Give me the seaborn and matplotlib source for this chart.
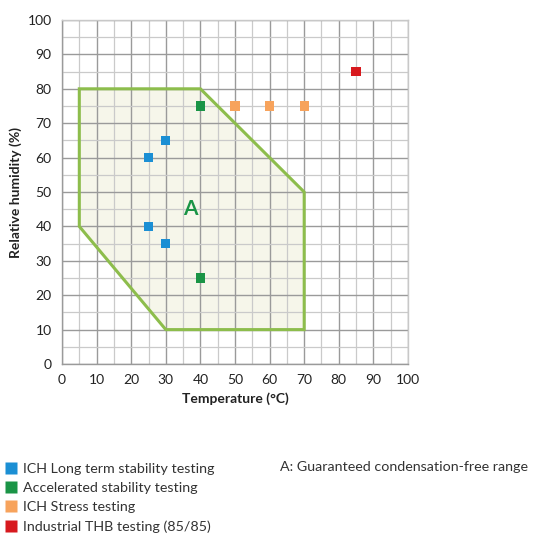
import matplotlib
matplotlib.use("Agg")
import matplotlib.pyplot as plt
import seaborn as sns
import pandas as pd
from matplotlib.patches import Polygon
from matplotlib.lines import Line2D

sns.set_theme(style="white")
plt.rcParams['font.family'] = ['Lato', 'DejaVu Sans']

# Data
categories = ["ICH Long term stability testing", "Accelerated stability testing",
              "ICH Stress testing", "Industrial THB testing (85/85)"]
blue_temp = [25, 30, 25, 30]
blue_rh = [60, 65, 40, 35]
green_temp = [40, 40]
green_rh = [75, 25]
orange_temp = [50, 60, 70]
orange_rh = [75, 75, 75]
red_temp = [85]
red_rh = [85]
region_temp = [5, 40, 70, 70, 30, 5]
region_rh = [80, 80, 50, 10, 10, 40]
colors = ["#1b8fd4", "#1a9446", "#f7a35c", "#d7191e"]

df = pd.DataFrame({
    "temp": blue_temp + green_temp + orange_temp + red_temp,
    "rh": blue_rh + green_rh + orange_rh + red_rh,
    "cat": [categories[0]] * 4 + [categories[1]] * 2 + [categories[2]] * 3 + [categories[3]],
})

fig = plt.figure(figsize=(5.35, 5.35), dpi=100)
ax = fig.add_axes([0.1159, 0.3196, 0.6467, 0.643])

pts = list(zip(region_temp, region_rh))
ax.add_patch(Polygon(pts, closed=True, facecolor="#f6f6ea", edgecolor="none", zorder=0.2))
ax.add_patch(Polygon(pts, closed=True, facecolor="none", edgecolor="#8dbd4c",
                     linewidth=2.2, zorder=3))

sns.scatterplot(data=df, x="temp", y="rh", hue="cat", hue_order=categories,
                palette=colors, marker="s", s=45, edgecolor="none",
                legend=False, ax=ax, zorder=4)

ax.text(37, 45, "A", color="#1a9446", fontsize=15, fontweight="bold",
        ha="center", va="center", zorder=5)

ax.set_xlim(0, 100)
ax.set_ylim(0, 100)
ax.set_xticks(range(0, 101, 10))
ax.set_yticks(range(0, 101, 10))
ax.set_xticks(range(5, 100, 10), minor=True)
ax.set_yticks(range(5, 100, 10), minor=True)
ax.grid(True, which="major", color="#9a9a9a", linewidth=1.0, zorder=1)
ax.grid(True, which="minor", color="#cacaca", linewidth=0.9, zorder=1)
ax.set_axisbelow(True)
for s in ax.spines.values():
    s.set_color("#9a9a9a")
    s.set_linewidth(1.0)
ax.spines["top"].set_color("#c8c8c8")
ax.spines["right"].set_color("#c8c8c8")
ax.tick_params(axis="both", which="major", length=4, color="#9a9a9a",
               labelsize=10, labelcolor="#222222", direction="out")
ax.tick_params(axis="both", which="minor", length=0)
ax.set_xlabel("Temperature (°C)", fontsize=10, fontweight="bold", color="#222222")
ax.set_ylabel("Relative humidity (%)", fontsize=10, fontweight="bold", color="#222222")

handles = [Line2D([0], [0], marker="s", color="none", markerfacecolor=c,
                  markeredgecolor="none", markersize=9) for c in colors]
fig.legend(handles, categories, loc="upper left", bbox_to_anchor=(0.0, 0.146),
           frameon=False, fontsize=10.3, handlelength=0.8, handletextpad=0.4,
           labelspacing=0.5, borderaxespad=0, labelcolor="#333333")
fig.text(280 / 535, 1 - 467 / 535, "A: Guaranteed condensation-free range",
         fontsize=10.3, color="#333333", va="center", ha="left")

fig.savefig("out.png", dpi=100)
